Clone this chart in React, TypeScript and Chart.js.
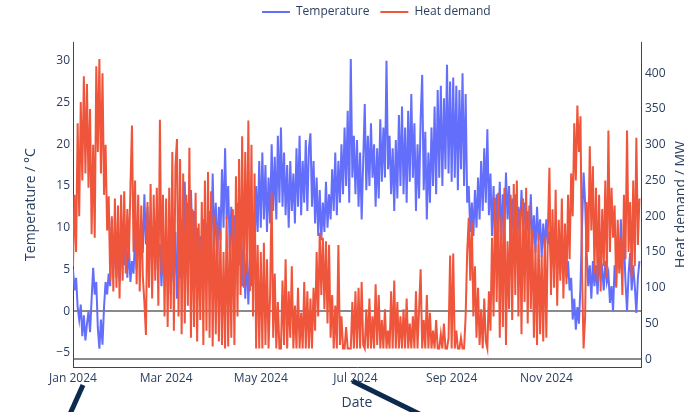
import React, { useEffect, useRef } from "react";
import { Chart, registerables } from "chart.js";

Chart.register(...registerables);

// Daily values, day 0 = 1 Jan 2024
const TEMPERATURE: number[] = [
  // Jan
  5.0, 2.5, 4.0, 0.5, -1.0, 0.8, -3.0, -0.5, -3.5, -1.5,
  0.0, -2.5, 1.5, 5.2, 2.0, 3.5, -2.0, -4.5, -1.0, -4.0,
  0.5, 3.5, 2.0, 4.5, 3.0, 11.0, 5.0, 9.0, 4.0, 8.5,
  3.5,
  // Feb
  6.0, 10.0, 5.5, 9.5, 4.0, 8.0, 3.5, 6.0, 4.5, 9.0,
  5.0, 10.5, 6.5, 11.0, 7.0, 14.0, 8.0, 12.5, 6.0, 11.5,
  7.5, 10.0, 5.0, 9.5, 6.5, 8.0, 3.0, 7.5, 4.5,
  // Mar
  9.0, 4.0, 8.5, 2.0, 7.0, 3.5, 9.5, 1.5, 8.0, 4.0,
  11.0, 5.5, 15.5, 7.0, 13.0, 6.0, 14.5, 8.0, 12.0, 4.5,
  10.0, 3.0, 9.0, 5.0, 11.0, 4.0, 10.5, 6.0, 12.0, 7.0,
  16.5,
  // Apr
  8.0, 13.0, 6.5, 12.5, 8.5, 17.0, 10.0, 19.5, 11.0, 15.0,
  7.5, 12.5, 5.5, 11.5, 8.0, 13.0, 5.5, 10.0, 3.0, 8.5,
  1.5, 7.0, 0.8, 6.5, 3.0, 11.0, 7.0, 15.0, 9.5, 18.0,
  // May
  10.0, 19.0, 11.0, 17.5, 9.5, 16.0, 10.5, 20.0, 12.0, 18.5,
  11.0, 21.0, 13.0, 22.0, 12.5, 19.0, 11.5, 17.5, 10.0, 18.0,
  12.0, 16.5, 10.5, 19.5, 12.5, 21.0, 11.5, 18.0, 13.0, 20.5,
  12.0,
  // Jun
  19.5, 21.3, 12.5, 18.0, 10.5, 16.0, 9.0, 14.5, 8.5, 13.0,
  9.5, 15.5, 10.0, 14.0, 11.0, 17.0, 12.0, 19.0, 11.5, 18.0,
  13.0, 20.0, 14.0, 22.0, 15.0, 24.0, 13.0, 30.2, 16.0, 21.0,
  // Jul
  14.0, 20.5, 12.5, 19.0, 11.0, 18.0, 24.8, 14.5, 21.0, 15.0,
  22.5, 16.0, 20.0, 12.5, 19.5, 13.5, 23.0, 15.5, 22.0, 16.0,
  30.0, 17.0, 21.0, 14.0, 19.5, 12.0, 20.5, 13.5, 23.5, 15.0,
  24.5,
  // Aug
  14.0, 22.0, 13.0, 24.0, 15.5, 26.0, 16.0, 22.5, 12.0, 20.0,
  13.5, 23.0, 28.3, 14.5, 21.5, 11.0, 19.0, 13.0, 22.0, 15.0,
  24.5, 14.0, 26.5, 16.0, 27.0, 15.0, 25.5, 17.0, 29.5, 16.5,
  27.5,
  // Sep
  15.5, 28.0, 16.0, 27.0, 14.5, 26.5, 17.0, 28.5, 15.0, 26.0,
  13.0, 15.0, 9.5, 13.0, 9.0, 14.5, 10.0, 16.0, 11.0, 18.0,
  12.0, 19.5, 13.0, 21.8, 11.5, 16.5, 9.0, 15.0, 8.0, 14.0,
  // Oct
  9.5, 15.5, 8.5, 14.0, 10.0, 16.6, 11.0, 15.0, 8.0, 13.5,
  9.0, 14.0, 7.5, 12.5, 9.5, 14.5, 10.0, 13.0, 8.5, 12.0,
  9.0, 14.0, 8.0, 11.5, 7.0, 12.5, 8.5, 11.0, 6.5, 10.5,
  7.5,
  // Nov
  11.0, 8.0, 9.5, 6.0, 8.5, 5.0, 9.0, 6.5, 8.0, 4.5,
  7.5, 5.5, 9.0, 4.0, 6.0, 2.5, 4.0, -1.0, 1.5, -2.2,
  0.5, -1.5, 3.0, 10.0, 16.6, 13.0, 7.0, 3.0, 5.5, 1.5,
  // Dec
  6.0, 3.0, 5.5, 2.0, 6.5, 4.0, 5.0, 2.5, 6.0, 3.5,
  4.5, 1.0, 3.0, 0.0, 5.5, 3.0, 9.0, 5.0, 11.0, 6.0,
  8.5, 3.5, 0.0, 4.5, 7.0, 2.5, 5.5, 3.0, -0.2, 4.0,
  6.0,
];

const HEAT_DEMAND: number[] = [
  // Jan
  130, 230, 150, 330, 200, 360, 250, 396, 260, 385,
  240, 350, 175, 300, 170, 410, 290, 420, 260, 400,
  230, 300, 180, 228, 110, 200, 95, 225, 100, 215,
  85,
  // Feb
  230, 110, 235, 120, 210, 140, 240, 327, 150, 250,
  105, 230, 95, 215, 115, 80, 34, 220, 100, 245,
  85, 230, 110, 240, 75, 335, 120, 230, 60,
  // Mar
  225, 45, 240, 70, 290, 40, 270, 308, 60, 280,
  35, 260, 50, 230, 75, 296, 30, 210, 45, 233,
  25, 190, 55, 220, 20, 250, 40, 262, 30, 235,
  18,
  // Apr
  200, 35, 188, 25, 180, 20, 150, 15, 200, 18,
  175, 30, 210, 20, 256, 60, 280, 90, 312, 100,
  290, 120, 334, 95, 300, 60, 260, 15, 160, 15,
  // May
  150, 15, 163, 20, 140, 15, 90, 233, 30, 120,
  15, 80, 15, 15, 110, 20, 140, 15, 95, 30,
  130, 15, 75, 15, 100, 15, 65, 15, 108, 15,
  95,
  // Jun
  15, 85, 15, 100, 40, 150, 60, 177, 90, 170,
  70, 165, 50, 160, 30, 90, 15, 75, 15, 160,
  20, 60, 15, 15, 45, 15, 15, 15, 80, 15,
  // Jul
  95, 15, 100, 15, 108, 20, 15, 70, 15, 85,
  15, 60, 15, 105, 20, 90, 15, 55, 15, 70,
  15, 40, 15, 95, 15, 110, 15, 80, 15, 60,
  15,
  // Aug
  70, 15, 85, 15, 50, 15, 60, 15, 95, 15,
  70, 126, 15, 55, 15, 90, 15, 65, 15, 40,
  15, 55, 15, 15, 35, 15, 50, 15, 15, 30,
  145,
  // Sep
  15, 148, 15, 40, 15, 15, 30, 15, 15, 60,
  150, 198, 110, 192, 60, 130, 30, 100, 20, 70,
  15, 85, 25, 15, 95, 40, 170, 60, 226, 80,
  // Oct
  233, 30, 200, 45, 240, 20, 165, 70, 230, 55,
  245, 90, 250, 60, 210, 35, 225, 80, 240, 50,
  215, 70, 180, 30, 160, 20, 175, 35, 145, 25,
  170,
  // Nov
  30, 180, 268, 90, 210, 100, 237, 75, 195, 110,
  225, 85, 190, 105, 230, 140, 260, 200, 330, 250,
  355, 290, 340, 120, 15, 60, 220, 150, 298, 180,
  // Dec
  270, 120, 240, 110, 230, 95, 210, 130, 250, 115,
  320, 150, 240, 170, 215, 100, 195, 120, 170, 90,
  230, 140, 320, 150, 220, 115, 250, 130, 310, 160,
  225,
];

const TICK_DAYS = [0, 60, 121, 182, 244, 305];
const TICK_LABELS = ["Jan 2024", "Mar 2024", "May 2024", "Jul 2024", "Sep 2024", "Nov 2024"];
const TEMP_TICKS = [-5, 0, 5, 10, 15, 20, 25, 30];
const HEAT_TICKS = [0, 50, 100, 150, 200, 250, 300, 350, 400];
const SERIES_NAMES = ["Temperature", "Heat demand"];
const COLORS = ["#636efa", "#ef553b"];

const FONT = '"Open Sans", Verdana, Arial, sans-serif';
const INK = "#2a3f5f";

const fmt = (v: number) => (v < 0 ? "\u2212" + Math.abs(v) : String(v));

const overlay = {
  id: "overlay",
  afterDraw(chart: any) {
    const { ctx, chartArea, scales } = chart;
    ctx.save();
    // legend
    ctx.font = `12px ${FONT}`;
    ctx.textBaseline = "middle";
    ctx.textAlign = "left";
    let x = 262;
    SERIES_NAMES.forEach((name, i) => {
      ctx.strokeStyle = COLORS[i];
      ctx.lineWidth = 2;
      ctx.beginPath();
      ctx.moveTo(x, 12);
      ctx.lineTo(x + 28, 12);
      ctx.stroke();
      ctx.fillStyle = INK;
      ctx.fillText(name, x + 34, 12);
      x += 34 + ctx.measureText(name).width + 11;
    });
    // axis titles
    ctx.font = `14px ${FONT}`;
    ctx.textAlign = "center";
    ctx.fillStyle = INK;
    const midY = (chartArea.top + chartArea.bottom) / 2;
    ctx.save();
    ctx.translate(31, midY);
    ctx.rotate(-Math.PI / 2);
    ctx.fillText("Temperature / \u00b0C", 0, 0);
    ctx.restore();
    ctx.save();
    ctx.translate(681, midY);
    ctx.rotate(-Math.PI / 2);
    ctx.fillText("Heat demand / MW", 0, 0);
    ctx.restore();
    ctx.fillText("Date", (chartArea.left + chartArea.right) / 2, 403);
    // dark strokes below the axis
    const xs = scales.x;
    ctx.strokeStyle = "#0b2a4e";
    ctx.lineWidth = 5;
    const a = xs.getPixelForValue(TICK_DAYS[0]);
    ctx.beginPath();
    ctx.moveTo(a + 10, 385);
    ctx.lineTo(a - 3, 414);
    ctx.stroke();
    const b = xs.getPixelForValue(TICK_DAYS[3]);
    ctx.beginPath();
    ctx.moveTo(b - 3, 381);
    ctx.lineTo(b + 64, 414);
    ctx.stroke();
    ctx.restore();
  },
};

export default function App() {
  const ref = useRef<HTMLCanvasElement | null>(null);
  useEffect(() => {
    document.body.style.margin = "0";
    const canvas = ref.current;
    if (!canvas) return;
    const zeroGrid = (c: any) => (c.tick && c.tick.value === 0 ? "#8a8a8a" : "rgba(0,0,0,0)");
    const chart = new Chart(canvas, {
      type: "line",
      data: {
        datasets: [
          {
            label: SERIES_NAMES[0],
            data: TEMPERATURE.map((v, i) => ({ x: i, y: v })),
            yAxisID: "y",
            borderColor: COLORS[0],
            backgroundColor: COLORS[0],
            borderWidth: 2,
            pointRadius: 0,
            tension: 0,
            fill: false,
            order: 2,
          },
          {
            label: SERIES_NAMES[1],
            data: HEAT_DEMAND.map((v, i) => ({ x: i, y: v })),
            yAxisID: "y1",
            borderColor: COLORS[1],
            backgroundColor: COLORS[1],
            borderWidth: 2,
            pointRadius: 0,
            tension: 0,
            fill: false,
            order: 1,
          },
        ],
      },
      options: {
        animation: false,
        responsive: false,
        devicePixelRatio: 1,
        layout: { padding: { top: 42, left: 0, right: 0, bottom: 0 } },
        plugins: { legend: { display: false }, tooltip: { enabled: false } },
        scales: {
          x: {
            type: "linear",
            min: 0,
            max: 366,
            afterBuildTicks: (s: any) => {
              s.ticks = TICK_DAYS.map((v) => ({ value: v }));
            },
            afterFit: (s: any) => {
              s.height = 45;
            },
            grid: { display: false, drawTicks: false },
            border: { display: true, color: "#444", width: 1 },
            ticks: {
              padding: 4,
              maxRotation: 0,
              autoSkip: false,
              color: INK,
              font: { family: FONT, size: 12 },
              callback: (_v: any, i: number) => TICK_LABELS[i],
            },
          },
          y: {
            position: "left",
            min: -6.68,
            max: 32.24,
            afterBuildTicks: (s: any) => {
              s.ticks = TEMP_TICKS.map((v) => ({ value: v }));
            },
            afterFit: (s: any) => {
              s.width = 73;
            },
            grid: { drawTicks: false, color: zeroGrid, lineWidth: 2 },
            border: { display: true, color: "#444", width: 1 },
            ticks: {
              padding: 3,
              color: INK,
              font: { family: FONT, size: 12 },
              callback: (v: any) => fmt(Number(v)),
            },
          },
          y1: {
            position: "right",
            min: -10.8,
            max: 443.8,
            afterBuildTicks: (s: any) => {
              s.ticks = HEAT_TICKS.map((v) => ({ value: v }));
            },
            afterFit: (s: any) => {
              s.width = 43;
            },
            grid: { drawTicks: false, color: zeroGrid, lineWidth: 2 },
            border: { display: true, color: "#444", width: 1 },
            ticks: {
              padding: 4,
              color: INK,
              font: { family: FONT, size: 12 },
              callback: (v: any) => fmt(Number(v)),
            },
          },
        },
      },
      plugins: [overlay],
    } as any);
    return () => chart.destroy();
  }, []);
  return (
    <div style={{ width: 684, height: 412 }}>
      <canvas ref={ref} width={684} height={412} style={{ display: "block" }} />
    </div>
  );
}
